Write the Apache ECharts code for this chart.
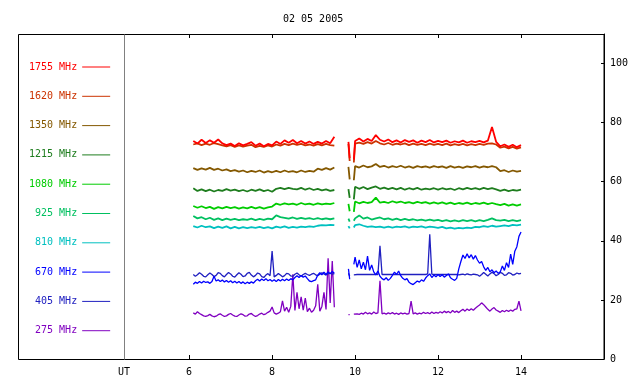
<!DOCTYPE html>
<html>
<head>
<meta charset="utf-8">
<script src="https://cdn.jsdelivr.net/npm/echarts@6/dist/echarts.min.js"></script>
<style>
html,body{margin:0;padding:0;background:#fff;}
#chart{width:640px;height:384px;}
</style>
</head>
<body>
<div id="chart"></div>
<script>
// ---------- data ----------
const title = "02 05 2005";
const xTicks = [6, 8, 10, 12, 14];
const yTicks = [0, 20, 40, 60, 80, 100];
const names = ["1755 MHz","1620 MHz","1350 MHz","1215 MHz","1080 MHz","925 MHz","810 MHz","670 MHz","405 MHz","275 MHz"];
const colors = ["#ff0000","#cc3300","#845800","#1e7d1e","#00cc00","#00c060","#00c0c0","#0000ff","#2020c0","#8000c0"];

// time (UT hours) for the smoother channels
const tCoarse = [6.1,6.2,6.3,6.4,6.5,6.6,6.7,6.8,6.9,7.0, 7.1,7.2,7.3,7.4,7.5,7.6,7.7,7.8,7.9,8.0,
  8.1,8.2,8.3,8.4,8.5,8.6,8.7,8.8,8.9,9.0, 9.1,9.2,9.3,9.4,9.5, 9.7,9.84,9.87,9.92, 9.97,
  10.0,10.1,10.2,10.3,10.4,10.5,10.6,10.7,10.8,10.9, 11.0,11.1,11.2,11.3,11.4,11.5,11.6,11.7,11.8,11.9,
  12.0,12.1,12.2,12.3,12.4,12.5,12.6,12.7,12.8,12.9, 13.0,13.1,13.2,13.3,13.4,13.5,13.6,13.7,13.8,13.9, 14.0];

// time (UT hours) for the low-frequency channels
const tFine = [6.10,6.15,6.20,6.25,6.30,6.35,6.40,6.45,6.50,6.55, 6.60,6.65,6.70,6.75,6.80,6.85,6.90,6.95,7.00,7.05,
  7.10,7.15,7.20,7.25,7.30,7.35,7.40,7.45,7.50,7.55, 7.60,7.65,7.70,7.75,7.80,7.85,7.90,7.95,8.00,8.05,
  8.10,8.15,8.20,8.25,8.30,8.35,8.40,8.45,8.50,8.55, 8.60,8.65,8.70,8.75,8.80,8.85,8.90,8.95,9.00,9.05,
  9.10,9.15,9.20,9.25,9.30,9.35,9.40,9.45,9.50, 9.70,9.84,9.87,9.92, 9.97,
  10.00,10.05,10.10,10.15,10.20,10.25,10.30,10.35,10.40,10.45, 10.50,10.55,10.60,10.65,10.70,10.75,10.80,10.85,10.90,10.95,
  11.00,11.05,11.10,11.15,11.20,11.25,11.30,11.35,11.40,11.45, 11.50,11.55,11.60,11.65,11.70,11.75,11.80,11.85,11.90,11.95,
  12.00,12.05,12.10,12.15,12.20,12.25,12.30,12.35,12.40,12.45, 12.50,12.55,12.60,12.65,12.70,12.75,12.80,12.85,12.90,12.95,
  13.00,13.05,13.10,13.15,13.20,13.25,13.30,13.35,13.40,13.45, 13.50,13.55,13.60,13.65,13.70,13.75,13.80,13.85,13.90,13.95, 14.00];

const v1755 = [73.8,72.9,74.2,73.1,74.0,73.2,74.3,73.0,72.4,72.9, 72.1,73.0,72.3,72.8,73.4,72.2,72.9,72.0,72.8,72.3,
  73.6,72.8,74.0,73.2,74.1,73.0,73.8,72.9,73.6,72.8, 73.5,72.9,73.8,73.0,75.2, null,73.5,68.0,null, 67.5,
  73.8,74.6,73.6,74.5,73.8,75.8,74.2,73.6,74.3,73.4, 74.0,73.3,74.1,73.5,74.0,73.2,73.9,73.4,74.1,73.3,
  73.8,73.4,73.9,73.2,73.7,73.3,73.9,73.2,73.7,73.4, 73.8,73.3,73.9,78.5,73.5,72.0,72.6,71.8,72.5,71.7, 72.4];
const v1620 = [72.6,73.0,72.4,72.9,72.5,73.1,72.7,72.3,72.0,72.4, 71.8,72.3,71.9,72.2,72.5,71.7,72.1,71.8,72.3,71.9,
  72.6,72.2,72.8,72.4,72.9,72.5,72.8,72.3,72.6,72.2, 72.7,72.3,72.8,72.4,72.2, null,72.8,67.0,null, 66.5,
  72.9,73.2,72.8,73.4,72.9,73.8,73.0,72.6,73.1,72.5, 72.9,72.6,73.0,72.4,72.9,72.5,72.8,72.4,72.9,72.5,
  72.8,72.4,72.9,72.3,72.7,72.4,72.8,72.3,72.7,72.4, 72.8,72.5,72.9,73.0,72.6,71.5,71.9,71.3,71.8,71.2, 71.6];
const v1350 = [64.6,64.0,64.5,64.1,64.7,64.0,64.4,63.8,64.2,63.6, 63.9,63.4,63.8,63.2,63.7,63.3,63.8,63.1,63.6,63.2,
  63.7,63.2,63.8,63.3,63.6,63.2,63.8,63.3,63.7,63.4, 64.4,64.0,64.6,64.1,64.8, null,65.0,60.8,null, 60.5,
  65.3,64.8,65.5,64.9,65.2,66.0,65.0,65.4,64.8,65.3, 64.9,65.4,64.8,65.2,64.7,65.3,64.9,65.2,64.8,65.3,
  64.9,65.2,64.7,65.3,64.8,65.1,64.7,65.2,64.9,65.3, 64.8,65.2,64.9,65.3,64.9,63.6,63.9,63.3,63.8,63.4, 63.7];
const v1215 = [57.8,56.9,57.4,56.8,57.3,56.7,57.2,56.9,57.5,57.0, 57.3,56.8,57.2,56.7,57.3,56.9,57.4,56.8,57.2,56.6,
  57.6,57.9,57.5,57.9,57.6,57.4,57.9,57.3,57.8,57.2, 57.6,57.1,57.4,56.9,57.2, null,57.5,54.5,null, 54.0,
  58.3,57.6,58.2,57.5,58.0,58.4,57.6,58.0,57.5,57.9, 57.4,57.9,57.3,57.8,57.4,57.9,57.3,57.7,57.4,57.8,
  57.3,57.8,57.4,57.7,57.2,57.8,57.4,57.9,57.5,57.8, 57.4,57.9,57.5,57.8,57.4,56.9,57.3,56.8,57.2,57.0, 57.3];
const v1080 = [51.8,51.2,51.7,51.1,51.5,50.8,51.4,51.0,51.5,51.1, 51.4,50.9,51.3,51.0,51.5,51.0,51.4,50.9,51.3,51.6,
  52.6,52.2,52.7,52.3,52.6,52.2,52.8,52.3,52.6,52.2, 52.7,52.3,52.6,52.4,52.8, null,52.5,50.0,null, 49.8,
  53.3,52.7,53.2,52.8,53.1,54.6,52.9,53.2,52.8,53.4, 52.9,53.3,52.8,53.1,52.7,53.2,52.8,53.1,52.6,53.0,
  52.6,53.0,52.5,52.9,52.4,52.8,52.5,52.9,52.4,52.8, 52.5,52.9,52.4,52.8,52.4,52.1,52.5,51.9,52.3,51.9, 52.3];
const v925 = [48.4,47.6,48.0,47.3,47.8,47.1,47.6,47.0,47.5,47.1, 47.4,47.0,47.3,47.1,47.5,47.0,47.4,47.1,47.5,47.3,
  48.6,48.0,47.8,47.5,47.9,47.4,47.8,47.4,47.7,47.3, 47.7,47.3,47.6,47.3,47.6, null,47.5,46.5,null, 46.8,
  47.6,48.6,47.5,47.9,47.2,47.6,47.9,47.3,47.6,47.1, 47.5,47.0,47.4,47.0,47.3,46.9,47.2,46.8,47.2,46.8,
  47.1,46.7,47.0,46.6,46.9,46.6,47.0,46.7,47.0,46.6, 47.0,46.7,47.1,47.6,47.0,46.8,47.1,46.7,47.0,46.7, 47.0];
const v810 = [45.0,44.5,45.1,44.6,44.9,44.3,44.8,44.4,44.9,44.2, 44.7,44.2,44.6,44.3,44.6,44.4,44.7,44.3,44.6,44.2,
  44.8,44.5,44.9,44.4,44.7,44.5,44.8,44.6,44.9,44.7, 45.1,45.3,45.2,45.4,45.3, null,45.0,44.2,null, 44.5,
  45.3,45.6,45.1,44.7,44.9,44.6,44.8,44.5,44.8,44.5, 44.8,44.6,44.9,44.5,44.8,44.6,44.9,44.5,44.8,44.6,
  44.4,44.7,44.2,44.5,44.1,44.4,44.2,44.5,44.3,44.7, 44.6,45.0,44.7,45.1,44.8,45.0,45.2,45.0,45.4,45.2, 45.5];

const v670 = [25.3,26.0,25.6,26.2,25.7,26.3,25.9,26.1,25.6,26.2, 28.0,26.4,26.8,26.2,26.7,26.1,26.6,26.0,26.5,25.8,
  26.3,25.7,26.2,25.6,26.1,25.5,26.0,25.6,26.1,25.7, 26.5,27.0,26.4,27.1,26.6,27.2,26.5,26.9,26.3,26.8,
  26.2,26.9,26.4,27.0,26.5,27.1,26.6,27.2,26.8,27.6, 28.2,27.6,28.3,27.7,28.1,27.2,26.4,26.2,26.5,26.8,
  28.4,29.2,28.5,29.4,28.6,29.5,28.8,29.6,29.0, null,30.5,27.0,null, 32.0,
  34.5,31.0,33.5,30.5,32.8,30.2,34.8,30.0,31.8,29.5, 28.5,29.8,28.0,27.2,26.8,27.5,26.6,27.3,28.3,29.4,
  28.6,29.8,28.2,27.3,26.8,27.2,26.0,25.5,25.2,25.8, 26.4,26.0,26.8,26.3,27.4,28.2,28.8,27.6,28.4,27.8,
  28.6,27.9,28.5,27.7,28.3,28.8,27.5,27.0,26.6,27.3, 30.5,33.0,35.2,34.0,35.6,34.2,35.3,33.8,35.0,33.5,
  32.4,33.0,31.2,30.0,31.0,29.5,30.2,29.2,29.8,29.0, 29.5,31.5,30.0,32.6,31.0,35.5,32.0,36.5,38.0,41.5, 43.0];
const v405 = [28.6,28.0,28.5,29.2,28.7,28.0,27.8,28.5,29.1,28.6, 27.9,28.3,29.2,29.0,28.2,27.8,28.6,29.3,28.8,28.0,
  27.7,28.5,29.2,28.7,27.9,28.1,29.0,29.3,28.4,27.8, 28.3,29.1,28.8,27.9,27.6,28.4,28.9,28.2,36.5,27.8,
  28.3,28.9,28.4,27.8,28.2,29.0,28.8,28.1,28.0,28.7, 29.1,28.5,28.0,28.6,29.0,28.6,28.3,28.7,29.0,28.5,
  28.2,28.7,29.2,28.8,28.4,28.9,29.1,28.7,28.9, null,29.0,28.0,null, 28.5,
  28.6,28.6,28.6,28.6,28.6,28.6,28.6,28.6,28.6,28.6, 28.6,28.6,38.3,28.6,28.6,28.6,28.6,28.6,28.6,28.6,
  28.6,28.6,28.6,28.6,28.6,28.6,28.6,28.6,28.6,28.6, 28.6,28.6,28.6,28.6,28.6,28.8,42.2,28.7,28.6,28.6,
  28.6,28.6,28.6,28.6,28.6,28.6,28.6,28.6,28.6,28.6, 28.5,28.6,28.7,28.5,28.8,28.6,28.5,28.7,28.6,28.5,
  28.0,28.6,29.3,28.7,28.1,28.8,29.4,28.9,28.2,28.6, 29.3,29.0,28.3,28.5,29.2,29.0,28.4,28.6,29.1,28.8, 29.0];
const v275 = [15.6,15.2,16.0,15.4,15.0,14.6,14.4,14.7,15.1,14.6, 14.3,14.5,15.0,15.3,14.8,14.4,14.6,15.1,15.4,14.9,
  14.5,14.4,14.9,15.3,15.0,14.5,14.6,15.2,15.4,14.8, 14.4,14.7,15.2,15.5,15.0,15.3,15.8,16.2,17.6,15.6,
  15.2,15.5,16.0,19.7,16.2,17.5,15.8,17.8,28.7,16.4, 22.6,17.0,21.0,16.5,20.6,16.0,17.2,15.8,16.5,18.0,
  25.3,16.2,17.8,22.6,16.8,34.1,19.0,33.2,17.5, null,15.0,15.0,null, 15.2,
  15.0,15.3,15.1,15.5,15.2,15.8,15.3,15.6,15.2,15.9, 15.4,15.6,26.5,15.3,15.5,15.2,15.6,15.3,15.7,15.2,
  15.5,15.1,15.6,15.3,15.5,15.2,15.4,19.6,15.3,15.6, 15.2,15.5,15.3,15.8,15.4,15.7,15.3,15.9,15.4,15.8,
  15.5,16.0,15.6,16.2,15.7,16.1,15.6,16.4,15.8,16.2, 15.7,16.3,16.8,16.2,16.9,16.4,17.0,16.5,17.2,17.8,
  18.3,19.0,18.4,17.6,16.8,16.2,16.9,17.4,16.6,16.2, 15.8,16.4,16.0,16.5,16.1,16.6,16.2,16.8,17.0,19.6, 16.3];

const valueSets = [v1755, v1620, v1350, v1215, v1080, v925, v810, v670, v405, v275];
const timeSets  = [tCoarse, tCoarse, tCoarse, tCoarse, tCoarse, tCoarse, tCoarse, tFine, tFine, tFine];

// ---------- chart ----------
const mono = "DejaVu Sans Mono";
const chart = echarts.init(document.getElementById('chart'), null, {renderer: 'canvas'});

const series = [];
for (let i = names.length - 1; i >= 0; i--) {
  const ts = timeSets[i], vs = valueSets[i];
  series.push({
    name: names[i],
    type: 'line',
    symbol: 'none',
    showSymbol: false,
    animation: false,
    connectNulls: false,
    color: colors[i],
    lineStyle: {width: ts === tCoarse ? 1.8 : 1.3, color: colors[i]},
    data: ts.map((t, k) => [t, vs[k] === null ? '-' : vs[k]])
  });
}

const lineIcon = 'path://M0,0H28V1H0Z';

chart.setOption({
  animation: false,
  backgroundColor: '#ffffff',
  title: {
    text: title, left: 278, top: 9,
    textStyle: {fontFamily: mono, fontSize: 10, fontWeight: 'normal', color: '#000'}
  },
  legend: {
    orient: 'vertical', left: 29, top: 62, padding: 0,
    align: 'right', itemWidth: 28, itemHeight: 10, itemGap: 19.3,
    selectedMode: false,
    symbolKeepAspect: true,
    formatter: n => (n.length < 8 ? ' ' + n : n),
    textStyle: {fontFamily: mono, fontSize: 10},
    data: names.map((n, i) => ({
      name: n, icon: lineIcon,
      itemStyle: {color: colors[i], borderWidth: 0},
      textStyle: {color: colors[i], fontFamily: mono, fontSize: 10}
    }))
  },
  grid: {left: 124, top: 34, width: 480, height: 325, containLabel: false},
  xAxis: [{
    type: 'value', min: 4.43, max: 16, position: 'bottom',
    axisLine: {show: true, lineStyle: {color: '#000', width: 1}},
    axisTick: {show: true, inside: true, length: 4, customValues: xTicks, lineStyle: {color: '#000'}},
    axisLabel: {show: true, customValues: [4.43].concat(xTicks), margin: 8,
      formatter: v => (v < 5 ? 'UT' : String(Math.round(v))),
      fontFamily: mono, fontSize: 10, color: '#000'},
    splitLine: {show: false}
  }, {
    type: 'value', min: 4.43, max: 16, position: 'top',
    axisLine: {show: true, lineStyle: {color: '#000', width: 1}},
    axisTick: {show: true, inside: true, length: 4, customValues: xTicks, lineStyle: {color: '#000'}},
    axisLabel: {show: false},
    splitLine: {show: false}
  }],
  yAxis: {
    type: 'value', min: 0, max: 110, position: 'right',
    axisLine: {show: true, lineStyle: {color: '#000', width: 1}},
    axisTick: {show: true, inside: true, length: 3, customValues: yTicks, lineStyle: {color: '#000'}},
    axisLabel: {show: true, customValues: yTicks, margin: 6, fontFamily: mono, fontSize: 10, color: '#000'},
    splitLine: {show: false}
  },
  graphic: [
    {type: 'rect', silent: true, z: 100,
     shape: {x: 18.5, y: 34.5, width: 585.5, height: 325},
     style: {fill: 'none', stroke: '#000', lineWidth: 1}},
    {type: 'line', silent: true, z: 100,
     shape: {x1: 124.5, y1: 34.5, x2: 124.5, y2: 359.5},
     style: {stroke: '#808080', lineWidth: 1}}
  ],
  series: series
});
</script>
</body>
</html>
